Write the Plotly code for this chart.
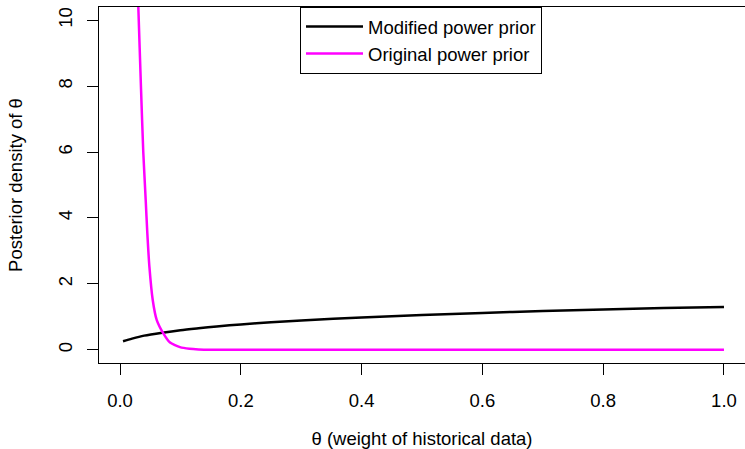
import plotly.graph_objects as go

# Posterior density of the weight parameter theta under two priors
theta_modified = [0.005, 0.02, 0.04, 0.07, 0.1, 0.13, 0.16, 0.2, 0.25,
                  0.3, 0.4, 0.5, 0.6, 0.7, 0.8, 0.9, 1.0]
dens_modified = [0.26, 0.34, 0.43, 0.52, 0.595, 0.655, 0.71, 0.77, 0.835,
                 0.89, 0.98, 1.055, 1.12, 1.175, 1.225, 1.265, 1.30]

theta_original = [0.025, 0.0303, 0.0348, 0.0385, 0.0425, 0.0452, 0.0486, 0.0541,
                  0.0607, 0.0717, 0.0828, 0.0993, 0.115, 0.13, 0.15, 0.2, 0.3,
                  0.4, 0.5, 0.6, 0.7, 0.8, 0.9, 1.0]
dens_original = [13.5, 10.4, 7.9, 6.0, 4.55, 3.54, 2.53, 1.52,
                 0.91, 0.50, 0.22, 0.08, 0.03, 0.01, 0.0, 0.0, 0.0,
                 0.0, 0.0, 0.0, 0.0, 0.0, 0.0, 0.0]

x_ticks = [0.0, 0.2, 0.4, 0.6, 0.8, 1.0]
x_tick_labels = ["0.0", "0.2", "0.4", "0.6", "0.8", "1.0"]
y_ticks = [0, 2, 4, 6, 8, 10]
y_tick_labels = ["0", "2", "4", "6", "8", "10"]

FONT = "Liberation Sans, Arial, Helvetica, sans-serif"
FS = 18.5

fig = go.Figure()
fig.add_trace(go.Scatter(
    x=theta_modified, y=dens_modified, mode="lines",
    name="Modified power prior",
    line=dict(color="black", width=2.5, shape="spline", smoothing=0.8),
))
fig.add_trace(go.Scatter(
    x=theta_original, y=dens_original, mode="lines",
    name="Original power prior",
    line=dict(color="#FF00FF", width=2.5, shape="spline", smoothing=0.5),
))

fig.update_layout(
    width=745, height=449,
    margin=dict(l=99, r=0, t=7, b=86, pad=0),
    paper_bgcolor="white", plot_bgcolor="white",
    font=dict(family=FONT, size=FS, color="black"),
    showlegend=True,
    legend=dict(
        x=(300 - 99) / 646, y=1, xanchor="left", yanchor="top",
        bordercolor="black", borderwidth=1, bgcolor="white",
        font=dict(family=FONT, size=FS, color="black"),
        tracegroupgap=0, itemwidth=57,
    ),
    xaxis=dict(
        range=[-0.0348, 1.0348],
        tickvals=x_ticks, ticktext=x_tick_labels,
        showline=True, linecolor="black", linewidth=1, mirror=True,
        ticks="outside", ticklen=11, tickcolor="black", tickwidth=1,
        ticklabelstandoff=10,
        showgrid=False, zeroline=False,
        title=dict(text="θ (weight of historical data)", standoff=21,
                   font=dict(family=FONT, size=FS)),
    ),
    yaxis=dict(
        range=[-0.4, 10.4],
        tickvals=y_ticks, ticktext=y_tick_labels, tickangle=-90,
        showline=True, linecolor="black", linewidth=1, mirror=False,
        ticks="outside", ticklen=11, tickcolor="black", tickwidth=1,
        ticklabelstandoff=8,
        showgrid=False, zeroline=False,
        title=dict(text="Posterior density of θ", standoff=27,
                   font=dict(family=FONT, size=FS)),
    ),
)

fig.write_html("out.html")
